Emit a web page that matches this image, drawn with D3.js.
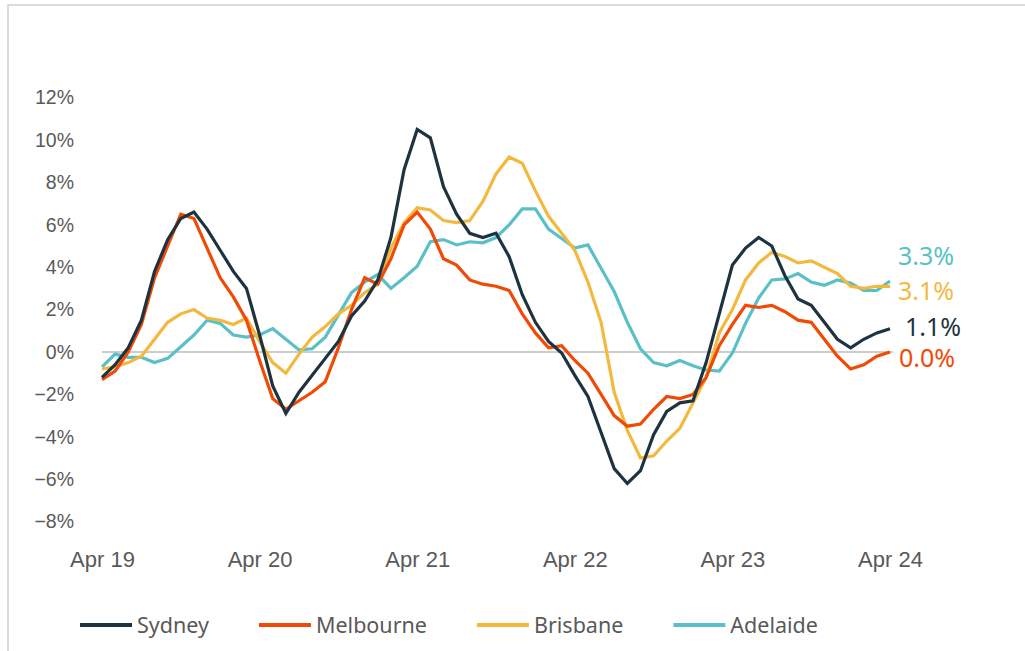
<!DOCTYPE html>
<html>
<head>
<meta charset="utf-8">
<script src="https://cdn.jsdelivr.net/npm/d3@7"></script>
<style>
  html, body { margin: 0; padding: 0; background: #fff; }
  svg { display: block; font-family: "Noto Sans", "Open Sans", sans-serif; }
</style>
</head>
<body>
<div id="chart"></div>
<script>
// --- Data: annual change, monthly Apr 19 -> Apr 24 ---
const cities = ["Sydney", "Melbourne", "Brisbane", "Adelaide"];
const colors = ["#1e3340", "#f04a06", "#f3b93e", "#5bbfc8"];

const sydney = [-1.2, -0.6, 0.2, 1.5, 3.8, 5.3, 6.3, 6.6, 5.8, 4.8, 3.8, 3.0,
  0.8, -1.6, -2.9, -1.9, -1.1, -0.3, 0.5, 1.7, 2.4, 3.4, 5.4, 8.6,
  10.5, 10.1, 7.8, 6.5, 5.6, 5.4, 5.6, 4.5, 2.7, 1.4, 0.5, -0.05,
  -1.1, -2.1, -3.8, -5.5, -6.2, -5.6, -3.9, -2.8, -2.4, -2.3, -0.5, 1.8,
  4.1, 4.9, 5.4, 5.0, 3.6, 2.5, 2.2, 1.4, 0.6, 0.2, 0.6, 0.9, 1.1];
const melbourne = [-1.3, -0.9, 0.0, 1.3, 3.5, 5.0, 6.5, 6.3, 4.9, 3.5, 2.6, 1.5,
  -0.4, -2.2, -2.7, -2.3, -1.9, -1.4, 0.2, 2.0, 3.5, 3.2, 4.4, 6.0,
  6.6, 5.8, 4.4, 4.1, 3.4, 3.2, 3.1, 2.9, 1.8, 0.9, 0.2, 0.3,
  -0.4, -1.0, -2.0, -3.0, -3.5, -3.4, -2.7, -2.1, -2.2, -2.0, -1.2, 0.3,
  1.3, 2.2, 2.1, 2.2, 1.9, 1.5, 1.4, 0.6, -0.2, -0.8, -0.6, -0.2, 0.0];
const brisbane = [-0.8, -0.7, -0.5, -0.2, 0.6, 1.4, 1.8, 2.0, 1.6, 1.5, 1.3, 1.6,
  0.5, -0.5, -1.0, -0.1, 0.7, 1.2, 1.8, 2.2, 2.8, 3.2, 4.9, 6.1,
  6.8, 6.7, 6.2, 6.1, 6.2, 7.1, 8.4, 9.2, 8.9, 7.6, 6.4, 5.6,
  4.8, 3.3, 1.4, -1.9, -3.7, -5.0, -4.9, -4.2, -3.6, -2.4, -1.2, 0.9,
  2.0, 3.4, 4.2, 4.7, 4.5, 4.2, 4.3, 4.0, 3.7, 3.1, 3.0, 3.1, 3.1];
const adelaide = [-0.7, -0.1, -0.25, -0.25, -0.5, -0.3, 0.25, 0.8, 1.5, 1.35, 0.8, 0.7,
  0.8, 1.1, 0.6, 0.1, 0.15, 0.7, 1.75, 2.8, 3.3, 3.65, 3.0, 3.5,
  4.05, 5.2, 5.3, 5.05, 5.2, 5.15, 5.4, 6.0, 6.75, 6.75, 5.8, 5.35,
  4.9, 5.05, 3.95, 2.85, 1.4, 0.15, -0.5, -0.65, -0.4, -0.65, -0.85, -0.9,
  -0.05, 1.35, 2.55, 3.4, 3.45, 3.7, 3.3, 3.15, 3.4, 3.25, 2.9, 2.9, 3.35];
const endLabels = ["1.1%", "0.0%", "3.1%", "3.3%"];

const xTickLabels = ["Apr 19", "Apr 20", "Apr 21", "Apr 22", "Apr 23", "Apr 24"];
const yTicks = [12, 10, 8, 6, 4, 2, 0, -2, -4, -6, -8];

const series = [sydney, melbourne, brisbane, adelaide];

// --- Layout ---
const width = 1025, height = 651;
const svg = d3.select("#chart").append("svg")
  .attr("width", width)
  .attr("height", height);

// card border
svg.append("rect")
  .attr("x", 8).attr("y", 5)
  .attr("width", width + 20).attr("height", height + 20)
  .attr("fill", "none")
  .attr("stroke", "#dcdcdc")
  .attr("stroke-width", 2);

const x = d3.scaleLinear().domain([0, sydney.length - 1]).range([102, 890]);
const y = d3.scaleLinear().domain([-8, 12]).range([521.6, 97.6]);

// y axis labels
const yAxis = d3.axisLeft(y)
  .tickValues(yTicks)
  .tickSize(0)
  .tickPadding(0)
  .tickFormat(d => d3.format("d")(d) + "%");
svg.append("g")
  .attr("transform", "translate(74,0)")
  .call(yAxis)
  .call(g => g.select(".domain").remove())
  .selectAll("text")
  .attr("fill", "#595959")
  .style("font-size", "19.5px")
  .style("font-family", "inherit");

// x axis labels, one per April
const xAxis = d3.axisBottom(x)
  .tickValues(xTickLabels.map((d, i) => i * 12))
  .tickSize(0)
  .tickPadding(0)
  .tickFormat((d, i) => xTickLabels[i]);
svg.append("g")
  .attr("transform", "translate(0,551)")
  .call(xAxis)
  .call(g => g.select(".domain").remove())
  .selectAll("text")
  .attr("fill", "#595959")
  .style("font-size", "22px")
  .style("font-family", "inherit");

// zero line
svg.append("line")
  .attr("x1", x(0)).attr("x2", x(sydney.length - 1) + 3)
  .attr("y1", y(0)).attr("y2", y(0))
  .attr("stroke", "#bdbdbd")
  .attr("stroke-width", 1.5);

const line = d3.line()
  .x((d, i) => x(i))
  .y(d => y(d));

// draw back to front: Adelaide, Brisbane, Melbourne, Sydney
[3, 2, 1, 0].forEach(k => {
  svg.append("path")
    .datum(series[k])
    .attr("fill", "none")
    .attr("stroke", colors[k])
    .attr("stroke-width", 3.2)
    .attr("stroke-linejoin", "miter")
    .attr("d", line);
});

// end-of-line value labels
const labelY = [327, 358, 291, 256];
const labelX = [905, 899, 898, 898];
series.forEach((s, k) => {
  svg.append("text")
    .attr("x", labelX[k])
    .attr("y", labelY[k])
    .attr("dy", "0.35em")
    .attr("fill", colors[k])
    .style("font-size", "25px")
    .text(endLabels[k]);
});

// legend
const legend = svg.append("g").attr("transform", "translate(80,625)");
let lx = 0;
cities.forEach((c, k) => {
  const g = legend.append("g").attr("transform", `translate(${lx},0)`);
  g.append("line")
    .attr("x1", 0).attr("x2", 52)
    .attr("stroke", colors[k])
    .attr("stroke-width", 4);
  const t = g.append("text")
    .attr("x", 57)
    .attr("dy", "0.35em")
    .attr("fill", "#595959")
    .style("font-size", "21.5px")
    .text(c);
  lx += 57 + t.node().getComputedTextLength() + 50;
});
</script>
</body>
</html>
